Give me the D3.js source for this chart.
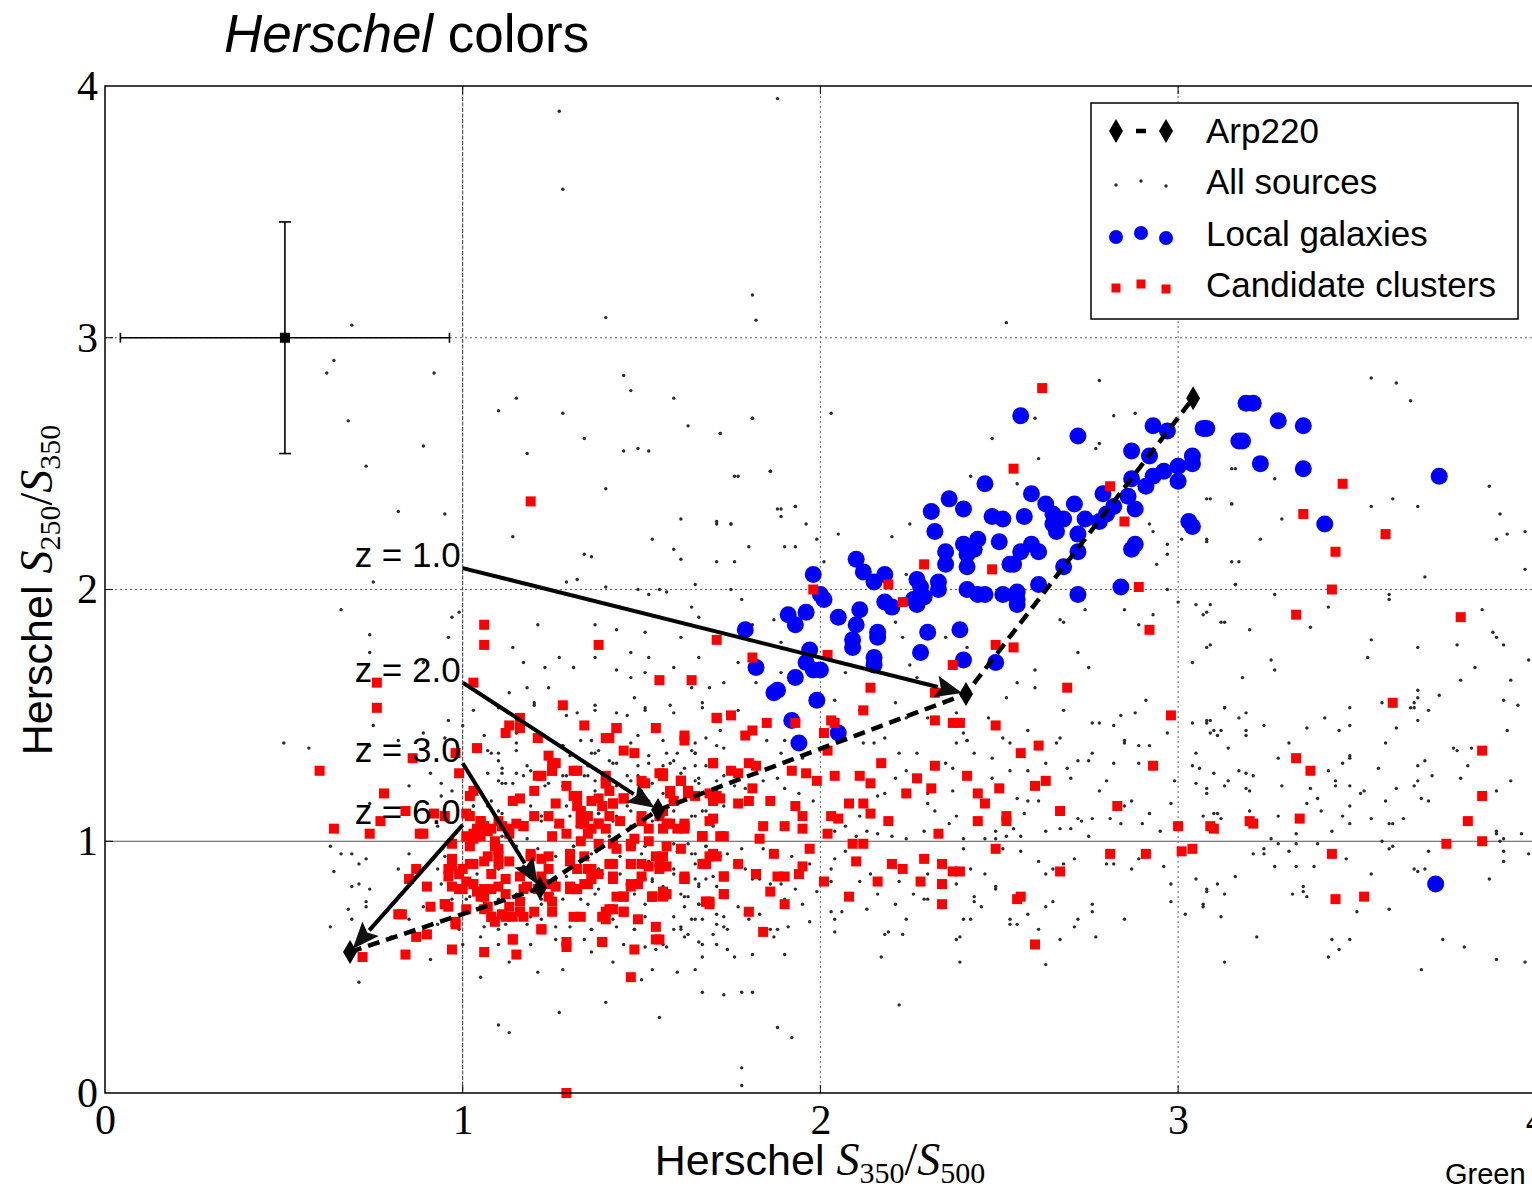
<!DOCTYPE html>
<html>
<head>
<meta charset="utf-8">
<script src="https://cdn.jsdelivr.net/npm/d3@7"></script>
<style>
  body { margin: 0; background: #fff; }
  svg { display: block; }
</style>
</head>
<body>
<div id="chart-area"></div>
<script>
// ---- data ----
const xTicks = [0, 1, 2, 3, 4];
const yTicks = [0, 1, 2, 3, 4];

// Arp220 track, low to high S350/S500
const arp220 = [[0.685, 0.56], [1.216, 0.814], [1.546, 1.124], [2.407, 1.585], [3.042, 2.76]];

// redshift labels: start of each arrow (label end) and its tip
const zLabels = ["z = 1.0", "z = 2.0", "z = 3.0", "z = 6.0"];
const zStarts = [[1.0, 2.085], [1.0, 1.63], [1.0, 1.31], [1.0, 1.065]];
const zEnds = [[2.407, 1.585], [1.546, 1.124], [1.216, 0.814], [0.685, 0.56]];

// typical error bar
const errPoint = [0.503, 3.0];
const errSize = [0.46, 0.46];

const localGalaxies = [
  [2.56,2.69],[2.72,2.61],[2.93,2.65],[2.97,2.63],[3.07,2.64],[3.17,2.59],[2.87,2.55],[2.92,2.53],
  [3.04,2.53],[3.04,2.50],[3.00,2.49],[2.96,2.47],[2.93,2.45],[3.00,2.43],[2.87,2.44],[2.91,2.41],
  [2.46,2.42],[2.59,2.38],[2.36,2.36],[2.40,2.32],[2.31,2.31],[2.63,2.34],[2.71,2.34],[2.79,2.38],
  [2.86,2.37],[2.88,2.32],[2.82,2.33],[2.65,2.30],[2.68,2.28],[2.80,2.30],[2.74,2.28],[2.78,2.27],
  [2.48,2.29],[2.51,2.28],[2.57,2.29],[2.65,2.26],[2.66,2.23],[2.32,2.23],[2.72,2.22],[2.88,2.18],
  [2.87,2.16],[2.72,2.15],[2.44,2.20],[2.50,2.19],[2.40,2.18],[2.43,2.16],[2.35,2.15],[2.59,2.18],
  [2.56,2.15],[2.61,2.15],[2.41,2.14],[2.35,2.10],[2.41,2.09],[2.53,2.10],[2.54,2.10],[2.68,2.09],
  [2.10,2.12],[2.12,2.07],[2.15,2.03],[2.18,2.06],[1.98,2.06],[2.27,2.04],[2.28,2.01],[2.33,2.03],
  [2.33,2.00],[2.61,2.02],[2.84,2.01],[2.41,2.00],[2.44,1.98],[2.46,1.98],[2.51,1.98],[2.55,1.99],
  [2.55,1.96],[2.55,1.94],[2.72,1.98],[2.00,1.98],[2.01,1.96],[2.29,1.97],[2.27,1.94],[2.26,1.96],
  [2.18,1.95],[2.20,1.93],[2.11,1.92],[1.96,1.91],[1.91,1.90],[1.93,1.86],[2.05,1.89],[2.10,1.86],
  [1.79,1.84],[2.30,1.83],[2.39,1.84],[2.16,1.83],[2.16,1.81],[2.09,1.80],[2.09,1.77],[1.97,1.76],
  [2.28,1.75],[2.15,1.73],[2.15,1.70],[1.96,1.71],[1.98,1.68],[2.00,1.68],[1.82,1.69],[2.40,1.72],
  [2.49,1.71],[1.93,1.65],[1.88,1.60],[1.87,1.59],[1.99,1.56],[1.92,1.48],[2.05,1.43],[1.94,1.39],
  [3.03,2.27],[3.04,2.25],[3.21,2.74],[3.19,2.74],[3.08,2.64],[3.28,2.67],[3.35,2.65],[3.18,2.59],
  [3.23,2.50],[3.35,2.48],[3.73,2.45],[3.41,2.26],[3.72,0.83]
];

const candidateClusters = [
  // right side
  [3.46,2.42],[3.35,2.30],[3.58,2.22],[3.44,2.15],[3.43,2.00],[3.33,1.90],[3.79,1.89],[3.60,1.55],
  [3.33,1.33],[3.37,1.28],[3.85,1.36],[3.85,1.18],[3.81,1.08],[3.75,0.99],[3.85,1.00],[3.34,1.09],
  [3.10,1.05],[3.20,1.08],[3.21,1.07],[3.43,0.95],[3.44,0.77],[3.52,0.78],
  // middle, lower
  [2.56,1.35],[2.61,1.38],[2.17,1.31],[2.32,1.30],[2.41,1.26],[2.27,1.25],[2.93,1.30],[2.63,1.24],
  [2.60,1.22],[2.50,1.21],[2.44,1.19],[2.31,1.21],[2.24,1.19],[2.14,1.23],[2.11,1.26],[2.04,1.26],
  [2.02,1.36],[2.46,1.15],[2.67,1.12],[2.83,1.14],[2.44,1.08],[2.52,1.10],[2.52,1.08],[2.19,1.08],
  [2.33,1.03],[2.14,1.11],[2.12,1.15],[2.08,1.15],[2.03,1.10],[2.05,1.09],[2.02,1.03],[1.95,1.05],
  [1.90,1.06],[1.95,1.10],[1.93,1.14],[1.99,1.24],[1.96,1.27],[1.92,1.28],[1.86,1.16],[1.84,1.06],
  [1.83,1.01],[1.80,1.16],[1.77,1.15],[1.81,1.21],[1.80,1.31],[1.82,1.30],[1.75,1.28],[1.77,1.27],
  [1.70,1.31],[1.72,1.17],[1.70,1.09],[1.67,1.02],[1.73,1.02],[1.62,1.06],[1.56,1.27],[1.61,1.24],
  [1.63,1.20],[1.58,1.20],[1.69,1.19],[2.09,0.99],[2.12,0.99],[2.49,0.97],[2.81,0.95],[2.91,0.95],
  [3.01,0.96],[3.04,0.97],[3.00,1.06],[3.09,1.06],[1.97,0.97],[1.87,0.95],[1.77,0.91],[1.70,0.95],
  [1.68,0.91],[1.62,0.86],[1.73,0.86],[1.82,0.87],[1.88,0.86],[1.90,0.86],[1.94,0.87],[1.95,0.90],
  [2.10,0.92],[2.20,0.91],[2.23,0.89],[2.29,0.93],[2.34,0.91],[2.37,0.88],[2.39,0.88],[2.67,0.88],
  [2.01,0.84],[2.16,0.84],[2.28,0.84],[2.34,0.83],[2.34,0.75],[2.08,0.78],[1.86,0.80],[1.90,0.75],
  [1.73,0.79],[1.69,0.76],[1.69,0.75],[1.80,0.72],[1.53,0.78],[1.56,0.80],[1.84,0.64],[1.54,0.61],
  [2.55,0.77],[2.56,0.78],[2.60,0.59],[1.29,0.00],
  // inside local galaxy zone
  [2.62,2.80],[2.54,2.48],[2.81,2.41],[2.85,2.27],[2.48,2.08],[2.89,2.01],[2.29,2.10],[2.19,2.02],
  [2.23,1.95],[1.98,2.00],[2.92,1.84],[2.49,1.78],[2.54,1.77],[1.81,1.73],[2.02,1.74],[1.71,1.80],
  [2.14,1.61],[2.37,1.70],[2.32,1.59],[2.69,1.61],[2.98,1.50],[1.71,1.49],[1.75,1.50],[1.85,1.47],
  [1.81,1.44],[1.79,1.42],[1.93,1.47],[2.12,1.52],[2.03,1.48],[2.04,1.47],[2.01,1.43],[2.32,1.48],
  [2.37,1.47],[2.39,1.47],[2.49,1.46],[1.19,2.35],
  // dense cluster
  [1.28,1.54],[1.13,1.46],[1.16,1.45],[1.12,1.43],[1.34,1.46],[1.43,1.45],[1.54,1.45],[1.40,1.41],
  [1.62,1.42],[1.62,1.40],[1.71,1.49],[1.21,1.41],[1.04,1.37],[0.98,1.35],[1.45,1.36],[1.48,1.35],
  [1.24,1.34],[1.25,1.31],[1.70,1.31],[0.99,1.27],[1.21,1.26],[1.31,1.28],[1.25,1.28],[1.56,1.26],
  [1.61,1.24],[1.40,1.23],[1.51,1.23],[1.02,1.18],[1.20,1.20],[1.16,1.17],[1.14,1.16],[1.26,1.15],
  [1.31,1.18],[1.36,1.16],[1.42,1.15],[1.45,1.17],[1.58,1.19],[1.63,1.19],[1.65,1.18],[1.70,1.18],
  [1.01,1.11],[1.05,1.08],[1.07,1.04],[1.11,1.06],[1.17,1.06],[1.20,1.10],[1.24,1.10],[1.27,1.07],
  [1.33,1.11],[1.33,1.07],[1.38,1.07],[1.41,1.10],[1.44,1.08],[1.50,1.10],[1.57,1.07],[1.62,1.05],
  [1.67,1.02],[1.03,1.03],[0.97,0.99],[1.02,0.98],[1.09,1.00],[1.13,1.03],[1.25,1.02],[1.29,1.03],
  [1.33,1.00],[1.38,0.99],[1.42,0.99],[1.47,0.98],[1.52,1.00],[1.57,0.98],[1.61,0.97],[0.96,0.89],
  [0.99,0.87],[1.03,0.91],[1.06,0.92],[1.10,0.94],[1.13,0.92],[1.19,0.95],[1.24,0.94],[1.30,0.95],
  [1.34,0.94],[1.36,0.89],[1.41,0.91],[1.47,0.91],[1.50,0.91],[1.55,0.91],[1.68,0.91],[1.69,0.94],
  [0.97,0.82],[1.01,0.84],[1.04,0.80],[1.08,0.87],[1.12,0.85],[1.17,0.81],[1.25,0.83],[1.30,0.81],
  [1.35,0.83],[1.38,0.87],[1.42,0.85],[1.47,0.83],[1.50,0.86],[1.62,0.85],[0.95,0.75],[1.01,0.73],
  [1.06,0.78],[1.07,0.74],[1.12,0.79],[1.16,0.76],[1.20,0.72],[1.25,0.76],[1.31,0.81],[1.45,0.78],
  [1.53,0.78],[1.57,0.79],[1.68,0.76],[0.98,0.68],[1.08,0.70],[1.12,0.70],[1.17,0.70],[1.22,0.65],
  [1.33,0.70],[1.39,0.70],[1.42,0.73],[1.45,0.72],
  // core, second reading
  [1.26,1.31],[1.25,1.28],[1.32,1.28],[1.22,1.26],[1.03,1.20],[1.29,1.22],[1.32,1.18],[1.32,1.14],
  [1.38,1.17],[1.35,1.10],[1.33,1.12],[1.33,1.08],[1.34,1.07],[1.36,1.05],[1.35,1.03],[1.38,1.07],
  [1.40,1.05],[1.42,1.15],[1.39,1.14],[1.41,1.20],[1.40,1.23],[1.40,1.26],[1.45,1.17],[1.50,1.24],
  [1.55,1.27],[1.56,1.26],[1.61,1.24],[1.63,1.20],[1.59,1.16],[1.56,1.12],[1.55,1.10],[1.58,1.07],
  [1.62,1.07],[1.60,1.05],[1.56,1.05],[1.52,1.05],[1.50,1.08],[1.48,1.01],[1.47,0.99],[1.43,0.97],
  [1.42,0.91],[1.67,1.02],[1.72,1.02],[1.69,1.08],[1.70,1.16],[1.71,1.18],[1.54,0.94],[1.56,0.94],
  [1.52,0.90],[1.55,0.89],[1.57,0.90],[1.47,0.91],[1.49,0.83],[1.47,0.82],[1.45,0.78],[1.42,0.86],
  [1.62,0.85],[1.56,0.79],[1.53,0.78],[1.43,0.78],[1.41,0.73],[1.40,0.72],[1.45,0.72],[1.68,0.76],
  [1.73,0.79],[1.73,0.86],[1.71,0.94],[1.67,0.91],[1.30,0.92],[1.32,0.89],[1.35,0.89],[1.36,0.87],
  [1.34,0.83],[1.36,0.85],[1.32,0.81],[1.30,0.82],[1.19,0.94],[1.22,0.93],[1.24,0.89],[1.22,0.86],
  [1.24,0.83],[1.26,0.82],[1.24,0.78],[1.21,0.81],[1.18,0.82],[1.16,0.86],[1.10,0.91],[1.07,0.94],
  [1.10,0.97],[1.09,0.98],[1.13,1.05],[1.17,1.06],[1.15,1.07],[1.04,1.05],[1.06,1.06],[1.05,1.02],
  [1.01,1.02],[1.03,1.01],[1.08,1.05],[1.10,1.08],[1.05,1.08],[1.02,1.10],[0.97,0.90],[0.96,0.86],
  [1.00,0.89],[1.02,0.91],[0.99,0.81],[1.03,0.83],[1.05,0.78],[1.06,0.81],[1.08,0.81],[1.10,0.82],
  [1.06,0.73],[1.08,0.70],[1.09,0.68],[1.11,0.71],[1.14,0.70],[1.16,0.72],[1.13,0.74],[0.96,0.74],
  [0.95,0.75],[1.14,0.61],[1.22,0.65],[1.25,0.72],[1.29,0.60],[1.31,0.70],[1.31,0.81],[1.39,0.60],
  [1.40,0.69],[1.49,0.69],[1.55,0.61],[1.54,0.66],[1.56,0.78],
  // left part of the cluster
  [0.77,1.08],[0.74,1.03],[0.84,1.12],[0.88,1.03],[0.87,0.89],[0.90,0.82],[0.91,0.74],[0.82,0.71],
  [0.83,0.71],[0.87,0.62],[0.90,0.63],[0.84,0.55],[0.72,0.54],[0.98,0.67],[0.97,0.57],[1.06,0.56],
  [1.14,0.61],[1.15,0.55],[1.29,0.58],[1.39,0.60],[1.48,0.57],[1.47,0.46],[1.00,0.81],[0.97,0.93],
  [0.85,0.85],[1.06,1.86],[1.06,1.78],[1.38,1.78],[0.76,1.63],[0.76,1.53],[1.03,1.63],[1.16,1.49],
  [1.55,1.64],[1.64,1.64],[1.41,1.41],[1.43,1.45],[0.86,1.33],[0.78,1.19],[0.64,1.05],[0.89,1.03],
  [0.92,1.11],[0.95,1.10],[0.60,1.28]
];

const allSources = [
  // upper area
  [1.27,3.90],[1.88,3.95],[1.28,3.59],[1.81,3.17],[1.82,3.07],[1.40,3.08],[2.52,3.06],[0.92,2.86],
  [1.45,2.85],[1.15,2.76],[1.47,2.79],[1.59,2.76],[1.10,2.71],[1.28,2.70],[1.81,2.68],[2.03,2.70],
  [1.63,2.65],[1.72,2.62],[1.34,2.60],[0.89,2.57],[1.18,2.54],[1.45,2.55],[1.49,2.56],[1.52,2.55],
  [1.76,2.45],[1.86,2.47],[1.40,2.40],[0.82,2.31],[0.95,2.30],[1.61,2.28],[1.71,2.26],[1.75,2.26],
  [1.88,2.32],[1.89,2.29],[1.93,2.33],[1.96,2.26],[2.48,2.60],[2.42,2.45],[2.55,2.42],[2.61,2.52],
  [2.60,2.68],[2.77,2.56],[2.78,2.83],[0.69,3.05],[0.64,2.91],[0.62,2.86],[0.68,2.67],[0.73,2.49],
  // far left
  [0.66,1.92],[0.74,1.82],[0.74,1.75],[0.50,1.39],[0.57,1.37],[0.74,1.15],[0.63,0.98],[0.69,0.95],
  [0.71,0.91],[0.64,0.88],[0.71,0.83],[0.74,0.81],[0.73,0.76],[0.68,0.73],[0.69,0.69],[0.63,0.66],
  [0.71,0.44],
  // right side
  [3.54,2.84],[3.61,2.82],[3.65,2.75],[3.16,2.48],[3.27,2.44],[3.09,2.36],[3.15,2.34],[3.29,2.28],
  [3.23,2.20],[3.08,2.20],[3.54,2.33],[3.60,2.36],[3.67,2.33],[3.87,2.41],[3.90,2.30],[3.97,2.23],
  [3.89,2.20],[3.92,2.22],[3.97,2.08],[3.15,2.11],[3.17,2.11],[3.16,2.02],[3.69,2.05],[3.27,1.98],
  [3.59,1.98],[3.59,1.96],[3.42,1.93],[3.09,1.94],[3.08,1.91],[3.13,1.87],[3.20,1.84],[3.37,1.85],
  [3.09,1.78],[3.54,1.80],[3.53,1.73],[3.67,1.77],[3.85,1.92],[3.88,1.83],[3.89,1.81],[3.91,1.78],
  [3.78,1.78],[3.26,1.72],[3.27,1.68],[3.18,1.65],[3.83,1.69],[3.98,1.72],[3.93,1.64],[3.67,1.60],
  [3.67,1.57],[3.66,1.55],[3.66,1.53],[3.65,1.53],[3.67,1.48],[3.73,1.58],[3.70,1.52],[3.79,1.64],
  [3.91,1.56],[3.95,1.54],[3.48,1.53],[3.57,1.55],[3.08,1.48],[3.09,1.48],[3.13,1.53],[3.17,1.49],
  [3.19,1.51],[3.24,1.46],[3.19,1.44],[3.19,1.42],[3.10,1.44],[3.12,1.44],[3.36,1.45],[3.45,1.44],
  [3.48,1.46],[3.41,1.49],[3.61,1.45],[3.58,1.39],[3.31,1.39],[3.14,1.37],[3.78,1.36],[3.77,1.37],
  [3.82,1.37],[3.92,1.44],[3.28,1.33],[3.48,1.34],[3.48,1.33],[3.46,1.31],[3.42,1.28],[3.56,1.29],
  [3.67,1.30],[3.69,1.32],[3.71,1.26],[3.81,1.30],[3.79,1.25],[3.06,1.29],[3.10,1.27],[3.13,1.22],
  [3.14,1.24],[3.17,1.28],[3.19,1.27],[3.21,1.26],[3.19,1.21],[3.20,1.20],[3.08,1.19],[3.29,1.22],
  [3.37,1.21],[3.39,1.17],[3.36,1.15],[3.44,1.24],[3.44,1.22],[3.48,1.22],[3.51,1.19],[3.52,1.20],
  [3.48,1.14],[3.58,1.16],[3.61,1.21],[3.66,1.22],[3.67,1.24],[3.68,1.17],[3.70,1.16],[3.89,1.20],
  [3.93,1.24],[3.11,1.11],[3.12,1.09],[3.20,1.12],[3.28,1.10],[3.33,1.03],[3.40,1.12],[3.43,1.04],
  [3.46,1.10],[3.48,1.07],[3.54,1.09],[3.63,1.09],[3.59,1.07],[3.60,1.07],[3.57,1.00],[3.26,1.01],
  [3.28,0.99],[3.33,0.99],[3.39,0.99],[3.24,0.97],[3.24,0.95],[3.21,0.95],[3.27,0.90],[3.31,0.96],
  [3.33,0.90],[3.38,0.90],[3.47,0.93],[3.59,0.97],[3.60,0.98],[3.70,0.96],[3.89,1.04],[3.89,1.03],
  [3.91,1.01],[3.90,1.00],[3.91,0.96],[3.91,0.92],[3.96,1.03],[3.98,0.95],[3.66,0.89],[3.67,0.88],
  [3.69,0.89],[3.54,0.87],[3.16,0.86],[3.11,0.83],[3.13,0.79],[3.08,0.80],[3.07,0.74],[3.35,0.82],
  [3.35,0.80],[3.36,0.78],[3.32,0.79],[3.50,0.72],[3.59,0.73],[3.12,0.70],[3.87,0.85],[3.22,0.62],
  [3.43,0.61],[3.48,0.61],[3.45,0.57],[3.42,0.54],[3.74,0.61],[3.80,0.58],[3.13,0.52],[3.68,0.49],
  [3.89,0.53],[3.97,0.52],
  // middle band
  [2.63,1.31],[2.66,1.39],[2.75,1.32],[2.76,1.35],[2.72,1.32],[2.69,1.29],[2.70,1.25],[2.82,1.31],
  [2.85,1.40],[2.89,1.38],[2.92,1.38],[2.89,1.31],[2.87,1.16],[2.85,1.14],[2.78,1.20],[2.80,1.24],
  [2.76,1.09],[2.81,1.09],[2.84,1.07],[2.90,1.07],[2.92,1.11],[2.95,1.04],[2.99,1.24],[2.98,1.15],
  [3.05,1.23],[3.08,1.21],[3.05,1.35],[3.04,1.30],[3.10,1.11],[3.07,1.10],[2.67,1.05],[2.70,1.05],
  [2.73,1.08],[2.75,1.02],[2.72,1.09],[2.58,1.16],[2.55,1.17],[2.61,1.16],[2.57,1.11],[2.56,1.02],
  [2.52,1.02],[2.49,1.01],[2.46,1.01],[2.49,1.04],[2.51,0.97],[2.56,0.96],[2.61,0.92],[2.63,0.87],
  [2.65,0.89],[2.68,0.91],[2.71,0.93],[2.80,0.91],[2.89,0.93],[2.96,0.90],[2.98,0.83],[3.05,0.85],
  [3.08,0.81],[2.87,0.89],[2.82,0.91],[2.76,0.75],[2.76,0.72],[2.72,0.69],[2.71,0.66],[2.77,0.62],
  [2.85,0.69],[2.98,0.76],[3.02,0.71],[3.07,0.75],[2.67,0.61],[2.61,0.65],[2.63,0.51],[2.65,0.76],
  [2.63,0.74],[2.58,0.71],[2.43,0.78],[2.43,0.76],[2.40,0.69],[2.42,0.69],[2.39,0.62],[2.38,0.61],
  [2.39,0.52],[2.53,0.69],[2.53,0.67],[2.49,0.82],[2.49,0.81],[2.55,0.67],[2.46,0.87],[2.42,0.89],
  [2.45,0.74],[2.29,0.77],[2.30,0.77],[2.24,0.69],[2.23,0.63],[2.18,0.63],[2.17,0.54],[2.19,0.64],
  [2.04,0.69],[2.04,0.64],[2.06,0.72],[2.22,0.35],[1.88,0.26],[1.92,0.22],[1.78,0.03],[1.67,0.40],
  [1.73,0.39],[1.78,0.40],[1.81,0.40],[1.60,0.48],[1.65,0.49],[1.53,0.49],[1.50,0.45],[1.76,0.54],
  [1.81,0.55],[1.90,0.55],[1.67,0.54],[1.71,0.59],[1.74,0.57],[1.66,0.60],[1.63,0.63],[1.59,0.65],
  [1.54,0.57],[1.57,0.58],[1.86,0.65],[1.87,0.62],[1.73,0.66],[1.74,0.65],[1.71,0.67],[1.64,0.69],
  [1.62,0.74],[1.66,0.75],[1.71,0.71],[1.77,0.74],[1.79,0.71],[1.80,0.69],[1.83,0.71],[1.88,0.65],
  [1.91,0.66],[1.95,0.75],[1.97,0.68],[1.99,0.80],[2.03,0.72],[1.90,0.77],[1.89,0.83],[1.93,0.81],
  [1.86,0.83],[1.83,0.85],[1.81,0.85],[1.79,0.89],[1.76,0.91],[1.68,0.85],[1.66,0.82],[1.61,0.79],
  [1.56,0.82],[1.53,0.84],[1.65,1.35],[1.60,1.35],[1.56,1.30],[1.73,1.37],[1.85,1.40],[1.89,1.35],
  [1.95,1.33],[2.12,1.39],[2.15,1.39],[2.22,1.35],[2.27,1.35],[2.38,1.39],[2.41,1.40],[2.43,1.35],
  [2.35,1.31],[2.37,1.29],[2.24,1.28],[2.21,1.25],[2.18,1.19],[2.16,1.18],[2.11,1.10],[2.07,1.06],
  [2.04,1.04],[1.98,1.16],[1.94,1.19],[1.90,1.21],[1.88,1.25],[1.84,1.24],[1.79,1.21],[1.76,1.22],
  [1.71,1.24],[1.66,1.25],[1.62,1.29],[1.58,1.16],[1.56,1.10],[1.53,1.08],[1.52,1.16],[2.30,1.19],
  [2.30,1.15],[2.32,1.12],[2.37,1.20],[2.38,1.10],[2.36,1.07],[2.29,1.04],[2.40,1.01],[2.24,1.01],
  [2.20,1.02],[2.16,1.03],[2.13,1.04],[2.10,1.02],[2.07,0.96],[2.04,0.93],[2.03,0.89],[2.03,0.84],
  [1.97,0.91],[1.92,0.94],[1.84,0.97],[1.78,0.97],[1.74,0.95],[1.65,0.95],[1.60,0.96],[1.56,0.93],
  [1.52,0.92],[2.14,0.87],[2.11,0.84],[2.22,0.84],[2.26,0.79],[2.13,0.73],[2.16,0.79],[2.21,0.75],
  [2.30,0.87],[2.38,0.83],[2.40,0.97],[2.53,1.28],[2.48,1.25],[2.58,1.28],[2.48,1.33],[2.53,1.39],
  [2.54,1.05],[2.63,1.04],
  // left cluster
  [1.14,2.21],[1.53,2.20],[1.59,2.16],[1.34,2.14],[1.36,2.13],[1.61,2.12],[1.29,2.03],[1.32,2.04],
  [0.75,2.03],[1.64,1.93],[1.65,2.02],[1.40,2.01],[1.49,2.00],[1.55,2.00],[1.57,1.99],[1.52,1.98],
  [1.44,1.93],[1.37,1.86],[1.43,1.84],[1.51,1.83],[1.61,1.81],[1.52,1.73],[1.47,1.75],[1.66,1.73],
  [1.21,1.86],[1.14,1.77],[0.99,1.91],[0.96,1.81],[0.97,1.89],[0.89,1.71],
  [1.17,1.71],[1.23,1.69],[1.27,1.73],[1.31,1.69],[1.37,1.73],[1.43,1.68],[1.47,1.65],[1.51,1.67],
  [1.59,1.69],[1.64,1.61],[1.13,1.59],[1.18,1.61],[1.20,1.55],[1.24,1.61],[1.27,1.53],[1.32,1.51],
  [1.37,1.54],[1.43,1.51],[1.48,1.57],[1.51,1.52],[1.58,1.54],[1.67,1.55],[0.75,1.46],[0.74,1.38],
  [0.82,1.40],[0.89,1.43],[0.95,1.41],[1.00,1.46],[1.07,1.36],[1.11,1.29],[1.15,1.43],[1.24,1.34],
  [1.28,1.38],[1.36,1.35],[1.41,1.32],[1.48,1.36],[1.52,1.31],[1.59,1.32],[1.65,1.35],[0.94,1.23],
  [0.91,1.27],[0.85,1.22],[1.11,1.23],[1.15,1.27],[1.20,1.19],[1.28,1.22],[1.34,1.26],[1.41,1.22],
  [1.47,1.24],[1.56,1.19],[1.64,1.20],[0.66,0.95],[0.69,0.82],[0.73,0.93],[0.82,0.89],[0.85,0.95],
  [0.90,0.82],[0.93,0.89],[0.96,0.75],[0.89,0.74],[0.85,0.69],[0.91,0.53],[0.80,0.62],[0.73,0.74],
  [1.05,0.46],[1.13,0.52],[1.21,0.48],[1.28,0.49],[1.36,0.56],[1.42,0.52],[1.51,0.58],[1.61,0.65],
  [1.67,0.59],[1.10,0.27],[1.13,0.24],[1.27,0.32],[1.40,0.36],[1.55,0.30],[1.78,0.10],
  // dense core
  [0.96,1.48],[1.03,1.52],[1.10,1.53],[1.20,1.54],[1.29,1.50],[1.37,1.52],[1.46,1.50],[1.51,1.53],
  [1.59,1.51],[1.67,1.53],[1.06,1.42],[1.10,1.35],[1.15,1.39],[1.28,1.38],[1.33,1.40],[1.37,1.35],
  [1.42,1.31],[1.49,1.42],[1.57,1.35],[1.65,1.39],[1.68,1.30],[1.07,1.27],[1.12,1.23],[1.17,1.26],
  [1.24,1.23],[1.29,1.26],[1.35,1.26],[1.37,1.20],[1.46,1.26],[1.50,1.20],[1.53,1.23],[1.61,1.27],
  [1.66,1.23],[1.71,1.20],[1.03,1.14],[1.08,1.16],[1.10,1.12],[1.19,1.14],[1.22,1.08],[1.29,1.14],
  [1.32,1.06],[1.38,1.11],[1.42,1.08],[1.46,1.14],[1.50,1.07],[1.59,1.12],[1.65,1.10],[1.68,1.12],
  [1.70,1.06],[1.06,1.06],[1.02,0.97],[1.09,0.95],[1.15,0.98],[1.21,0.97],[1.26,0.94],[1.31,0.98],
  [1.36,0.95],[1.39,0.98],[1.44,0.94],[1.50,0.95],[1.54,0.94],[1.59,0.99],[1.64,0.95],[1.68,0.98],
  [0.96,0.86],[1.04,0.87],[1.10,0.89],[1.17,0.90],[1.22,0.87],[1.29,0.86],[1.33,0.89],[1.38,0.89],
  [1.44,0.87],[1.46,0.83],[1.53,0.85],[1.59,0.87],[1.65,0.85],[1.70,0.86],[0.97,0.77],[1.02,0.78],
  [1.10,0.77],[1.15,0.79],[1.22,0.77],[1.25,0.79],[1.33,0.77],[1.37,0.79],[1.43,0.77],[1.48,0.79],
  [1.51,0.75],[1.57,0.77],[1.63,0.78],[1.66,0.75],[0.98,0.69],[1.06,0.66],[1.12,0.67],[1.19,0.70],
  [1.26,0.66],[1.31,0.69],[1.36,0.65],[1.42,0.69],[1.48,0.65],[1.54,0.67],[1.61,0.66],[1.67,0.69],
  // core, second reading
  [1.08,1.35],[1.10,1.32],[1.15,1.36],[1.18,1.30],[1.27,1.38],[1.30,1.34],[1.36,1.40],[1.38,1.36],
  [1.43,1.31],[1.47,1.39],[1.49,1.30],[1.52,1.34],[1.56,1.40],[1.58,1.31],[1.64,1.36],[1.65,1.30],
  [1.71,1.38],[1.73,1.26],[1.10,1.24],[1.11,1.27],[1.14,1.23],[1.19,1.28],[1.23,1.22],[1.28,1.26],
  [1.35,1.30],[1.37,1.24],[1.43,1.22],[1.49,1.26],[1.52,1.22],[1.65,1.24],[1.73,1.14],[1.67,1.12],
  [1.64,1.10],[1.47,1.12],[1.43,1.10],[1.38,1.11],[1.30,1.10],[1.26,1.06],[1.22,1.10],[1.11,1.11],
  [1.07,1.14],[1.03,1.14],[0.97,1.20],[0.94,1.18],[0.93,1.06],[0.97,1.01],[0.95,0.94],[1.02,0.98],
  [1.11,1.02],[1.18,1.01],[1.26,1.01],[1.31,0.98],[1.41,1.02],[1.47,1.06],[1.51,0.98],[1.63,0.99],
  [1.68,0.98],[1.72,0.94],[1.65,0.91],[1.59,0.89],[1.51,0.85],[1.39,0.87],[1.38,0.81],[1.35,0.75],
  [1.28,0.77],[1.22,0.75],[1.17,0.77],[1.12,0.79],[1.01,0.77],[0.97,0.81],[0.94,0.83],[0.93,0.67],
  [0.99,0.65],[1.05,0.62],[1.10,0.65],[1.18,0.67],[1.22,0.69],[1.30,0.66],[1.36,0.65],[1.43,0.66],
  [1.48,0.65],[1.51,0.70],[1.59,0.70],[1.65,0.69],[1.70,0.63],[1.73,0.70],[1.62,0.78],[1.66,0.83],
  [1.71,0.82],[1.62,0.62],[1.56,0.59],[1.45,0.59],[1.34,0.61],[1.26,0.61],[1.19,0.59],[1.10,0.59],
  [1.00,0.59],
  // among the local galaxies
  [1.81,2.68],[1.72,2.62],[1.86,2.47],[1.77,2.45],[2.82,2.69],
  [2.88,2.70],[2.78,2.58],[3.08,2.36],[3.15,2.34],[3.15,2.48],[3.08,2.19],[3.16,2.02],[3.05,1.94],
  [3.07,1.90],[3.12,1.87],[3.08,1.77],[3.04,1.71],[3.13,1.53],[3.09,1.43],[3.11,1.42],[3.04,1.47],
  [3.08,1.47],[2.97,1.43],[2.91,1.56],[2.88,1.51],[2.84,1.50],[2.85,1.39],[2.82,1.46],[2.76,1.47],
  [2.78,1.47],[2.72,1.75],[2.75,1.69],[2.68,1.52],[2.67,1.41],[2.67,1.88],[2.68,1.87],[2.74,1.92],
  [2.85,1.92],[2.89,1.86],[2.93,1.90],[2.97,2.00],[3.00,1.95],[2.92,2.26],[2.93,2.23],[2.97,2.18],
  [3.01,2.20],[2.97,2.14],[2.94,2.10],[2.60,1.68],[2.60,1.61],[2.55,1.63],[2.52,1.57],[2.47,1.49],
  [2.51,1.41],[2.58,1.44],[2.41,1.40],[2.40,1.43],[2.38,1.51],[2.30,1.49],[2.24,1.49],[2.21,1.55],
  [2.27,1.65],[2.25,1.70],[2.41,1.77],[2.35,1.81],[2.23,1.81],[2.21,1.87],[2.24,2.06],[2.20,2.21],
  [2.25,2.26],[2.05,2.22],[2.01,2.11],[1.93,2.17],[1.90,2.17],[1.80,2.17],[1.76,2.11],[1.71,2.11],
  [1.75,2.26],[1.71,2.27],[1.89,2.32],[1.93,2.33],[1.99,2.20],[1.75,2.00],[1.78,1.96],[1.87,1.88],
  [1.81,1.86],[1.66,1.89],[1.89,1.79],[1.77,1.71],[1.73,1.63],[1.69,1.61],[1.82,1.63],[1.89,1.67],
  [2.07,1.67],[2.04,1.56],[2.11,1.52],[2.18,1.41],[1.77,1.52],[1.72,1.44],[1.68,1.41],[1.90,1.40]
];

// ---- layout ----
const canvasWidth = 1532;
const canvasHeight = 1189;
const plot = {left: 105, top: 86, bottom: 1093};
const unitX = 357.7;

const xScale = d3.scaleLinear().domain([0, 4]).range([plot.left, plot.left + 4 * unitX]);
const yScale = d3.scaleLinear().domain([0, 4]).range([plot.bottom, plot.top]);

const sans = "'Liberation Sans', Arial, sans-serif";
const serif = "'Liberation Serif', 'DejaVu Serif', serif";

const canvas = d3.select("#chart-area").append("svg")
  .attr("width", canvasWidth).attr("height", canvasHeight);

canvas.append("rect").attr("width", canvasWidth).attr("height", canvasHeight).attr("fill", "#fff");

// title
const title = canvas.append("text")
  .attr("x", 224).attr("y", 52)
  .attr("font-family", sans).attr("font-size", 53);
title.append("tspan").attr("font-style", "italic").text("Herschel");
title.append("tspan").text(" colors");

// grid
const grid = canvas.append("g");
[1, 2, 3].forEach(v => {
  grid.append("line")
    .attr("x1", xScale(v)).attr("x2", xScale(v))
    .attr("y1", plot.top).attr("y2", plot.bottom)
    .attr("stroke", v === 1 ? "#333" : "#666").attr("stroke-width", 1)
    .attr("stroke-dasharray", v === 1 ? "4,1.5" : "2,3");
  grid.append("line")
    .attr("x1", plot.left).attr("x2", canvasWidth)
    .attr("y1", yScale(v)).attr("y2", yScale(v))
    .attr("stroke", v === 1 ? "#555" : "#666").attr("stroke-width", 1)
    .attr("stroke-dasharray", v === 1 ? null : "2,3");
});

// scatter: all sources
canvas.append("g").selectAll("circle")
  .data(allSources)
  .enter()
  .append("circle")
  .attr("cx", d => xScale(d[0]))
  .attr("cy", d => yScale(d[1]))
  .attr("r", 1.7)
  .attr("fill", "#2a2a2a");

// local galaxies
canvas.append("g").selectAll("circle")
  .data(localGalaxies)
  .enter()
  .append("circle")
  .attr("cx", d => xScale(d[0]))
  .attr("cy", d => yScale(d[1]))
  .attr("r", 8.5)
  .attr("fill", "#0000ff");

// candidate clusters
const sq = 10;
canvas.append("g").selectAll("rect")
  .data(candidateClusters)
  .enter()
  .append("rect")
  .attr("x", d => xScale(d[0]) - sq / 2)
  .attr("y", d => yScale(d[1]) - sq / 2)
  .attr("width", sq).attr("height", sq)
  .attr("fill", "#ff0000");

// Arp220 track
const diamond = "M0,-12L7,0L0,12L-7,0Z";
canvas.append("path")
  .datum(arp220)
  .attr("d", d3.line().x(d => xScale(d[0])).y(d => yScale(d[1])))
  .attr("fill", "none")
  .attr("stroke", "#000")
  .attr("stroke-width", 4.5)
  .attr("stroke-dasharray", "12,7");

canvas.append("g").selectAll("path")
  .data(arp220)
  .enter()
  .append("path")
  .attr("d", diamond)
  .attr("transform", d => `translate(${xScale(d[0])}, ${yScale(d[1])})`)
  .attr("fill", "#000");

// redshift arrows
const arrows = canvas.append("g");
zLabels.forEach((label, i) => {
  const x1 = xScale(zStarts[i][0]), y1 = yScale(zStarts[i][1]);
  const x2 = xScale(zEnds[i][0]), y2 = yScale(zEnds[i][1]);
  const ang = Math.atan2(y2 - y1, x2 - x1);
  const len = Math.hypot(x2 - x1, y2 - y1);
  const tip = len - 4, head = 27, halfW = 11;
  const g = arrows.append("g")
    .attr("transform", `translate(${x1}, ${y1}) rotate(${ang * 180 / Math.PI})`);
  g.append("line")
    .attr("x1", 0).attr("y1", 0).attr("x2", tip - head + 2).attr("y2", 0)
    .attr("stroke", "#000").attr("stroke-width", 4);
  g.append("path")
    .attr("d", `M${tip},0L${tip - head},${-halfW}L${tip - head + 5},0L${tip - head},${halfW}Z`)
    .attr("fill", "#111");

  arrows.append("text")
    .attr("x", x1 - 2).attr("y", y1 - 1)
    .attr("text-anchor", "end")
    .attr("font-family", sans).attr("font-size", 35)
    .text(label);
});

// error bar
const eb = canvas.append("g").attr("stroke", "#000").attr("stroke-width", 1.6);
const ex = xScale(errPoint[0]), ey = yScale(errPoint[1]);
const exL = xScale(errPoint[0] - errSize[0]), exR = xScale(errPoint[0] + errSize[0]);
const eyT = yScale(errPoint[1] + errSize[1]), eyB = yScale(errPoint[1] - errSize[1]);
eb.append("line").attr("x1", exL).attr("x2", exR).attr("y1", ey).attr("y2", ey);
eb.append("line").attr("x1", ex).attr("x2", ex).attr("y1", eyT).attr("y2", eyB);
eb.append("line").attr("x1", exL).attr("x2", exL).attr("y1", ey - 5).attr("y2", ey + 5);
eb.append("line").attr("x1", exR).attr("x2", exR).attr("y1", ey - 5).attr("y2", ey + 5);
eb.append("line").attr("x1", ex - 6).attr("x2", ex + 6).attr("y1", eyT).attr("y2", eyT);
eb.append("line").attr("x1", ex - 6).attr("x2", ex + 6).attr("y1", eyB).attr("y2", eyB);
canvas.append("rect").attr("x", ex - 5).attr("y", ey - 5).attr("width", 10).attr("height", 10).attr("fill", "#000");

// frame
canvas.append("rect")
  .attr("x", plot.left).attr("y", plot.top)
  .attr("width", xScale(4) - plot.left).attr("height", plot.bottom - plot.top)
  .attr("fill", "none").attr("stroke", "#000").attr("stroke-width", 1.5);

// inside ticks
const tickLen = 8;
xTicks.slice(1, 4).forEach(v => {
  canvas.append("line").attr("x1", xScale(v)).attr("x2", xScale(v))
    .attr("y1", plot.bottom).attr("y2", plot.bottom - tickLen).attr("stroke", "#000");
  canvas.append("line").attr("x1", xScale(v)).attr("x2", xScale(v))
    .attr("y1", plot.top).attr("y2", plot.top + tickLen).attr("stroke", "#000");
});
yTicks.slice(1, 4).forEach(v => {
  canvas.append("line").attr("x1", plot.left).attr("x2", plot.left + tickLen)
    .attr("y1", yScale(v)).attr("y2", yScale(v)).attr("stroke", "#000");
});

// axes (labels only)
const xAxis = d3.axisBottom(xScale).tickValues(xTicks).tickSize(0).tickPadding(11).tickFormat(d3.format("d"));
const xAxisG = canvas.append("g").attr("transform", `translate(0, ${plot.bottom})`).call(xAxis);
const yAxis = d3.axisLeft(yScale).tickValues(yTicks).tickSize(0).tickPadding(7).tickFormat(d3.format("d"));
const yAxisG = canvas.append("g").attr("transform", `translate(${plot.left}, 0)`).call(yAxis);
[xAxisG, yAxisG].forEach(g => {
  g.select(".domain").remove();
  g.selectAll("text").attr("font-family", serif).attr("font-size", 42).attr("fill", "#000");
});

// axis labels
function axisLabel(g, a, b) {
  g.append("tspan").attr("font-family", sans).text("Herschel ");
  g.append("tspan").attr("font-family", serif).attr("font-style", "italic").attr("font-size", 46).text("S");
  g.append("tspan").attr("font-family", serif).attr("font-size", 30).attr("dy", 8).text(a);
  g.append("tspan").attr("font-family", serif).attr("font-size", 46).attr("dy", -8).text("/");
  g.append("tspan").attr("font-family", serif).attr("font-style", "italic").attr("font-size", 46).text("S");
  g.append("tspan").attr("font-family", serif).attr("font-size", 30).attr("dy", 8).text(b);
}

const xLabel = canvas.append("text")
  .attr("x", 820).attr("y", 1175)
  .attr("text-anchor", "middle").attr("font-size", 43);
axisLabel(xLabel, "350", "500");

const yLabel = canvas.append("text")
  .attr("text-anchor", "middle").attr("font-size", 43)
  .attr("transform", `translate(52, 590) rotate(-90)`);
axisLabel(yLabel, "250", "350");

// legend
const legend = canvas.append("g");
legend.append("rect")
  .attr("x", 1091).attr("y", 103).attr("width", 427).attr("height", 216)
  .attr("fill", "#fff").attr("stroke", "#000").attr("stroke-width", 1.5);

const legendNames = ["Arp220", "All sources", "Local galaxies", "Candidate clusters"];
const legendRows = [131, 182, 234, 285];
const legendX = [1116, 1141, 1166];
const legendJitter = [3, -1, 4];

legendNames.forEach((name, i) => {
  legend.append("text")
    .attr("x", 1206).attr("y", legendRows[i] + 12)
    .attr("font-family", sans).attr("font-size", 35)
    .text(name);
});
legend.append("line").attr("x1", 1136).attr("x2", 1146).attr("y1", 131).attr("y2", 131)
  .attr("stroke", "#000").attr("stroke-width", 4.5);
[legendX[0], legendX[2]].forEach(x => {
  legend.append("path").attr("d", diamond).attr("transform", `translate(${x}, 131)`).attr("fill", "#000");
});
legendX.forEach((x, j) => {
  legend.append("circle").attr("cx", x).attr("cy", 182 + legendJitter[j]).attr("r", 1.7).attr("fill", "#2a2a2a");
  legend.append("circle").attr("cx", x).attr("cy", 234 + legendJitter[j]).attr("r", 7).attr("fill", "#0000ff");
  legend.append("rect").attr("x", x - 4.5).attr("y", 285 + legendJitter[j] - 4.5)
    .attr("width", 9).attr("height", 9).attr("fill", "#ff0000");
});

// credit, cut at the edge
canvas.append("text")
  .attr("x", 1445).attr("y", 1184)
  .attr("font-family", sans).attr("font-size", 29)
  .text("Green");
</script>
</body>
</html>
